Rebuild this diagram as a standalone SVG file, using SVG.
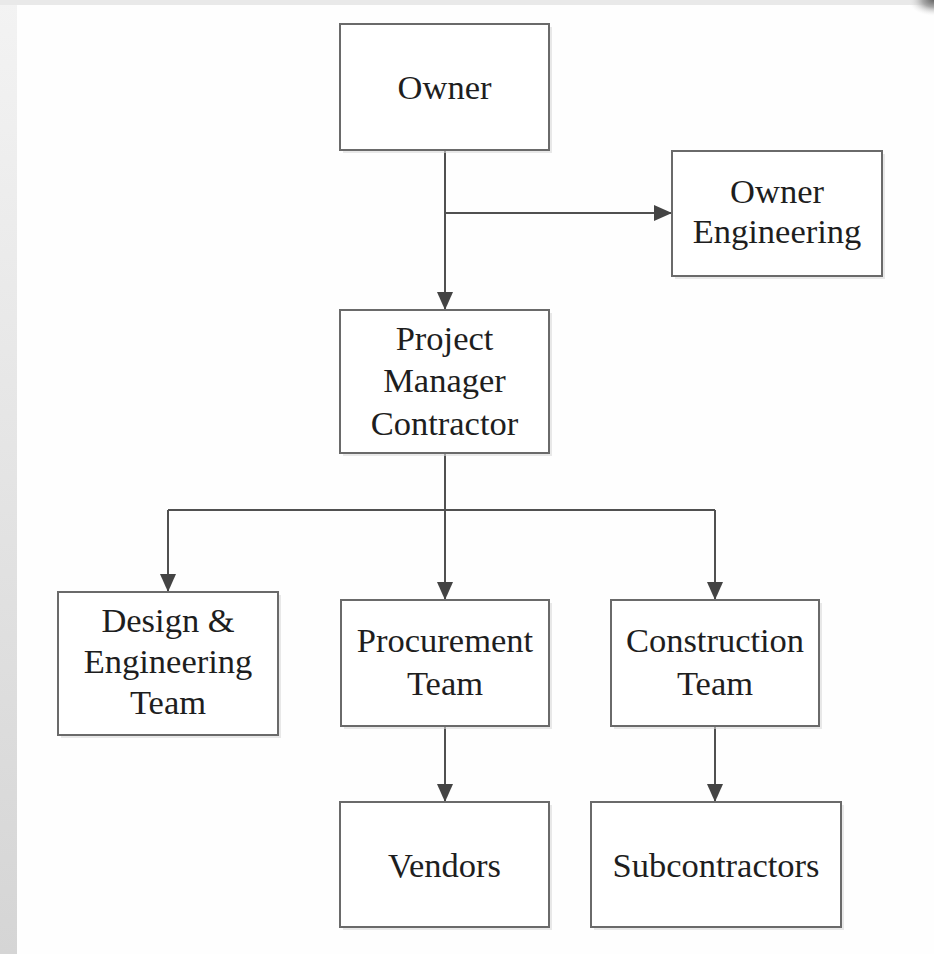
<svg xmlns="http://www.w3.org/2000/svg" width="934" height="954" viewBox="0 0 934 954">
<defs>
<linearGradient id="leftStrip" x1="0" y1="0" x2="0" y2="1">
<stop offset="0" stop-color="#f3f3f3"/>
<stop offset="1" stop-color="#d5d5d5"/>
</linearGradient>
<radialGradient id="corner" cx="1" cy="0" r="1">
<stop offset="0" stop-color="#666"/>
<stop offset="0.45" stop-color="#aaa"/>
<stop offset="1" stop-color="#eee" stop-opacity="0"/>
</radialGradient>
<marker id="arr" viewBox="0 0 18 16" refX="18" refY="8" markerWidth="18" markerHeight="16" markerUnits="userSpaceOnUse" orient="auto">
<path d="M0,0 L18,8 L0,16 Z" fill="#444"/>
</marker>
</defs>
<style>
.box{fill:#fff;stroke:#6a6a6a;stroke-width:2}
.shadow{fill:#d8d8d8;opacity:0.6}
.lbl{font-family:"Liberation Serif","Times New Roman",serif;font-size:34.5px;fill:#1e1e1e;text-anchor:middle}
.con{fill:none;stroke:#505050;stroke-width:2}
</style>
<rect x="0" y="0" width="934" height="954" fill="#fefefe"/>
<rect x="0" y="0" width="17" height="954" fill="url(#leftStrip)"/>
<rect x="0" y="0" width="934" height="5" fill="#e9e9e9"/>
<rect x="908" y="0" width="26" height="16" fill="url(#corner)"/>

<g id="connectors">
<line class="con" x1="445" y1="150" x2="445" y2="310" marker-end="url(#arr)"/>
<line class="con" x1="445" y1="213" x2="672" y2="213" marker-end="url(#arr)"/>
<polyline class="con" points="445,453 445,510"/>
<polyline class="con" points="168,510 715,510"/>
<line class="con" x1="168" y1="510" x2="168" y2="592" marker-end="url(#arr)"/>
<line class="con" x1="445" y1="510" x2="445" y2="600" marker-end="url(#arr)"/>
<line class="con" x1="715" y1="510" x2="715" y2="600" marker-end="url(#arr)"/>
<line class="con" x1="445" y1="726" x2="445" y2="802" marker-end="url(#arr)"/>
<line class="con" x1="715" y1="726" x2="715" y2="802" marker-end="url(#arr)"/>
</g>

<g id="owner">
<rect class="shadow" x="343" y="27" width="209" height="126"/>
<rect class="box" x="340" y="24" width="209" height="126"/>
<text class="lbl" x="444.5" y="99">Owner</text>
</g>
<g id="owner-engineering">
<rect class="shadow" x="675" y="154" width="210" height="125"/>
<rect class="box" x="672" y="151" width="210" height="125"/>
<text class="lbl" x="777" y="203">Owner</text>
<text class="lbl" x="777" y="243">Engineering</text>
</g>
<g id="project-manager">
<rect class="shadow" x="343" y="313" width="209" height="143"/>
<rect class="box" x="340" y="310" width="209" height="143"/>
<text class="lbl" x="444.5" y="350">Project</text>
<text class="lbl" x="444.5" y="392">Manager</text>
<text class="lbl" x="444.5" y="435">Contractor</text>
</g>
<g id="design-engineering">
<rect class="shadow" x="61" y="595" width="220" height="143"/>
<rect class="box" x="58" y="592" width="220" height="143"/>
<text class="lbl" x="168" y="632">Design &amp;</text>
<text class="lbl" x="168" y="673">Engineering</text>
<text class="lbl" x="168" y="714">Team</text>
</g>
<g id="procurement">
<rect class="shadow" x="344" y="603" width="208" height="126"/>
<rect class="box" x="341" y="600" width="208" height="126"/>
<text class="lbl" x="445" y="652">Procurement</text>
<text class="lbl" x="445" y="695">Team</text>
</g>
<g id="construction">
<rect class="shadow" x="614" y="603" width="208" height="126"/>
<rect class="box" x="611" y="600" width="208" height="126"/>
<text class="lbl" x="715" y="652">Construction</text>
<text class="lbl" x="715" y="695">Team</text>
</g>
<g id="vendors">
<rect class="shadow" x="343" y="805" width="209" height="125"/>
<rect class="box" x="340" y="802" width="209" height="125"/>
<text class="lbl" x="444.5" y="877">Vendors</text>
</g>
<g id="subcontractors">
<rect class="shadow" x="594" y="805" width="250" height="125"/>
<rect class="box" x="591" y="802" width="250" height="125"/>
<text class="lbl" x="716" y="877">Subcontractors</text>
</g>
</svg>
